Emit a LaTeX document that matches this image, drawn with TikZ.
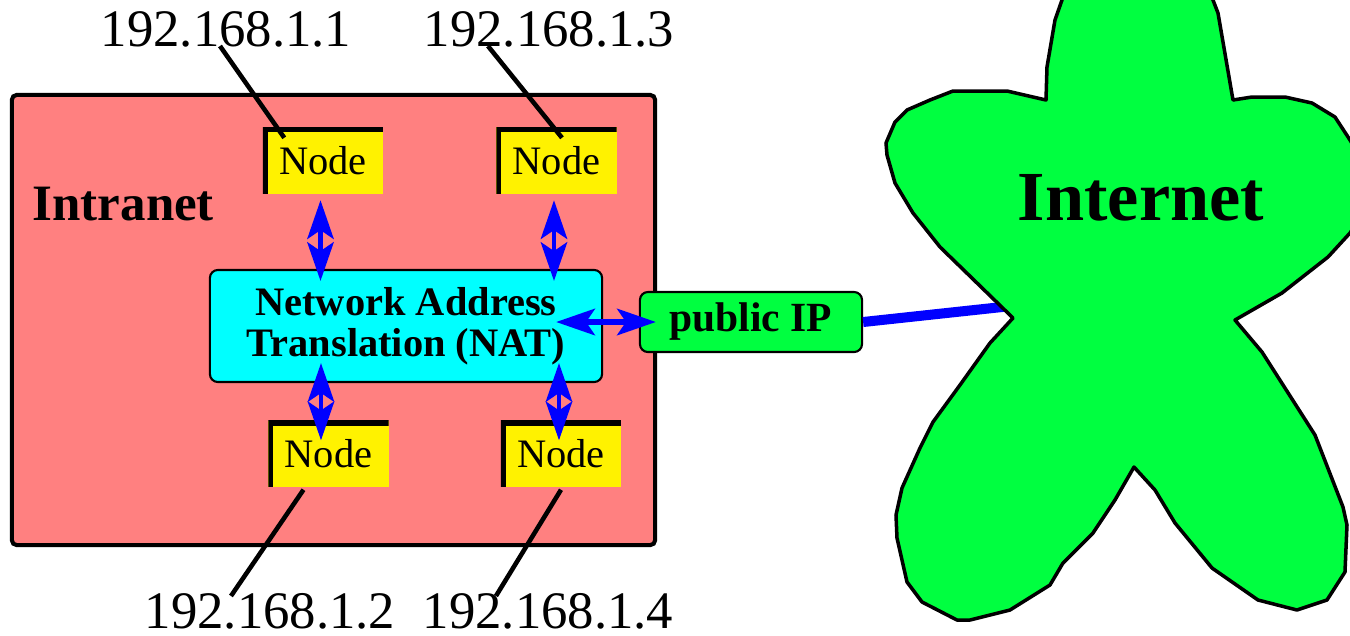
\documentclass[tikz,border=0pt]{standalone}
\usepackage{fontspec}
\setmainfont{Liberation Serif}
\usetikzlibrary{arrows.meta}

\definecolor{lanpink}{RGB}{255,128,128}
\definecolor{netgreen}{RGB}{0,255,64}
\definecolor{natcyan}{RGB}{0,255,255}

\begin{document}
\begin{tikzpicture}[x=0.01cm,y=-0.01cm,
    lanbox/.style={draw, fill=lanpink, line width=1.15pt, rounded corners=0.5mm,
      minimum width=64.3mm, minimum height=45mm, inner sep=0pt},
    hostbox/.style={fill=yellow, minimum width=12mm, minimum height=6.6mm, inner sep=0pt,
      font=\fontsize{11.5}{12}\selectfont,
      path picture={\draw[line width=1mm] (path picture bounding box.south west)
        -- (path picture bounding box.north west) -- (path picture bounding box.north east);}},
    natbox/.style={draw, fill=natcyan, line width=0.6pt, rounded corners=0.8mm, align=center,
      minimum width=39.2mm, minimum height=11.2mm, inner sep=0pt,
      font=\bfseries\fontsize{11.5}{11.7}\selectfont},
    pubbox/.style={draw, fill=netgreen, line width=0.6pt, rounded corners=0.8mm,
      minimum width=22.2mm, minimum height=6mm, inner sep=0pt,
      font=\bfseries\fontsize{11.8}{12}\selectfont},
    iplabel/.style={font=\fontsize{15}{16}\selectfont, inner sep=0pt, anchor=base},
    wire/.style={line width=1.3pt},
    link/.style={blue, line width=1.3pt,
      {Stealth[length=11pt,width=7.5pt,inset=2.5pt]}-{Stealth[length=11pt,width=7.5pt,inset=2.5pt]}},
  ]
  \useasboundingbox (0,0) rectangle (1350,635);

  % intranet
  \node[lanbox] (lan) at (333.5,320) {};
  \node[font=\bfseries\fontsize{14.5}{15}\selectfont, anchor=base west, inner sep=0pt] (lanname) at (32,220) {Intranet};

  % hosts
  \node[hostbox] (n1) at (323,160.5) {Node};
  \node[hostbox] (n3) at (556.5,160.5) {Node};
  \node[hostbox] (n2) at (328.5,454) {Node};
  \node[hostbox] (n4) at (561,454) {Node};

  % addresses
  \node[iplabel] (ip1) at (226,46) {192.168.1.1};
  \node[iplabel] (ip3) at (549,46) {192.168.1.3};
  \node[iplabel] (ip2) at (270,628) {192.168.1.2};
  \node[iplabel] (ip4) at (548,628) {192.168.1.4};

  \draw[wire] ([xshift=-0.6mm]ip1.base) -- ([shift={(2.2mm,-1.1mm)}]n1.north west);
  \draw[wire] ([xshift=-6.1mm]ip3.base) -- ([shift={(0.55mm,-1.1mm)}]n3.north);
  \draw[wire] ([shift={(-2.5mm,-0.2mm)}]n2.south) -- ([shift={(-3.9mm,3.2mm)}]ip2.base);
  \draw[wire] ([shift={(0mm,-0.2mm)}]n4.south) -- ([shift={(-5.2mm,3.2mm)}]ip4.base);

  % nat
  \node[natbox] (nat) at (406,326) {Network Address\\Translation (NAT)};
  \node[pubbox] (pub) at (751,322) {public IP};

  \draw[link, shorten <=0.6mm, shorten >=-1.2mm] ([xshift=-0.25mm]n1.south) -- ([xshift=-0.25mm]n1.south |- nat.north);
  \draw[link, shorten <=0.6mm, shorten >=-1.2mm] ([xshift=-0.25mm]n3.south) -- ([xshift=-0.25mm]n3.south |- nat.north);
  \draw[link, shorten <=-2mm, shorten >=-2mm] ([xshift=-0.75mm]n2.north |- nat.south) -- ([xshift=-0.75mm]n2.north);
  \draw[link, shorten <=-2mm, shorten >=-2mm] ([xshift=-0.2mm]n4.north |- nat.south) -- ([xshift=-0.2mm]n4.north);
  \draw[link, line width=1.6pt, shorten <=-4.7mm, shorten >=-1.7mm] (nat.east |- pub.west) -- (pub.west);

  % internet
  \coordinate (notch) at (1030,304);
  \draw[blue, line width=2.85pt] (pub.east) -- (notch);
  \begin{scope}
    \clip (0,0) rectangle (1350,635);
    \draw[fill=netgreen, line width=1pt, line join=round]
      (1068,-30) -- (1062,0) -- (1055,20) -- (1047,67) -- (1046,100) -- (1007,91) -- (953,91)
      -- (930,100) -- (907,110) -- (895,122) -- (886,143) -- (887,155) -- (895,183) -- (913,213)
      -- (940,247) -- (1013,318) -- (990,343) -- (960,385) -- (933,422) -- (920,448) -- (902,488)
      -- (896,515) -- (897,538) -- (907,582) -- (922,602) -- (957,620) -- (970,620) -- (1010,610)
      -- (1050,585) -- (1063,563) -- (1093,533) -- (1115,500) -- (1134,467) -- (1155,490)
      -- (1175,523) -- (1212,568) -- (1258,600) -- (1297,610) -- (1327,600) -- (1345,572)
      -- (1347,525) -- (1343,507) -- (1315,435) -- (1262,352) -- (1235,320) -- (1282,293)
      -- (1328,257) -- (1350,233) -- (1365,210) -- (1368,170) -- (1350,140) -- (1335,117)
      -- (1312,103) -- (1285,97) -- (1252,97) -- (1233,100) -- (1218,13) -- (1213,0)
      -- (1205,-30) -- cycle;
  \end{scope}
  \node[font=\bfseries\fontsize{20}{20}\selectfont, anchor=base, inner sep=0pt] (inet) at (1141,220) {Internet};
\end{tikzpicture}
\end{document}
